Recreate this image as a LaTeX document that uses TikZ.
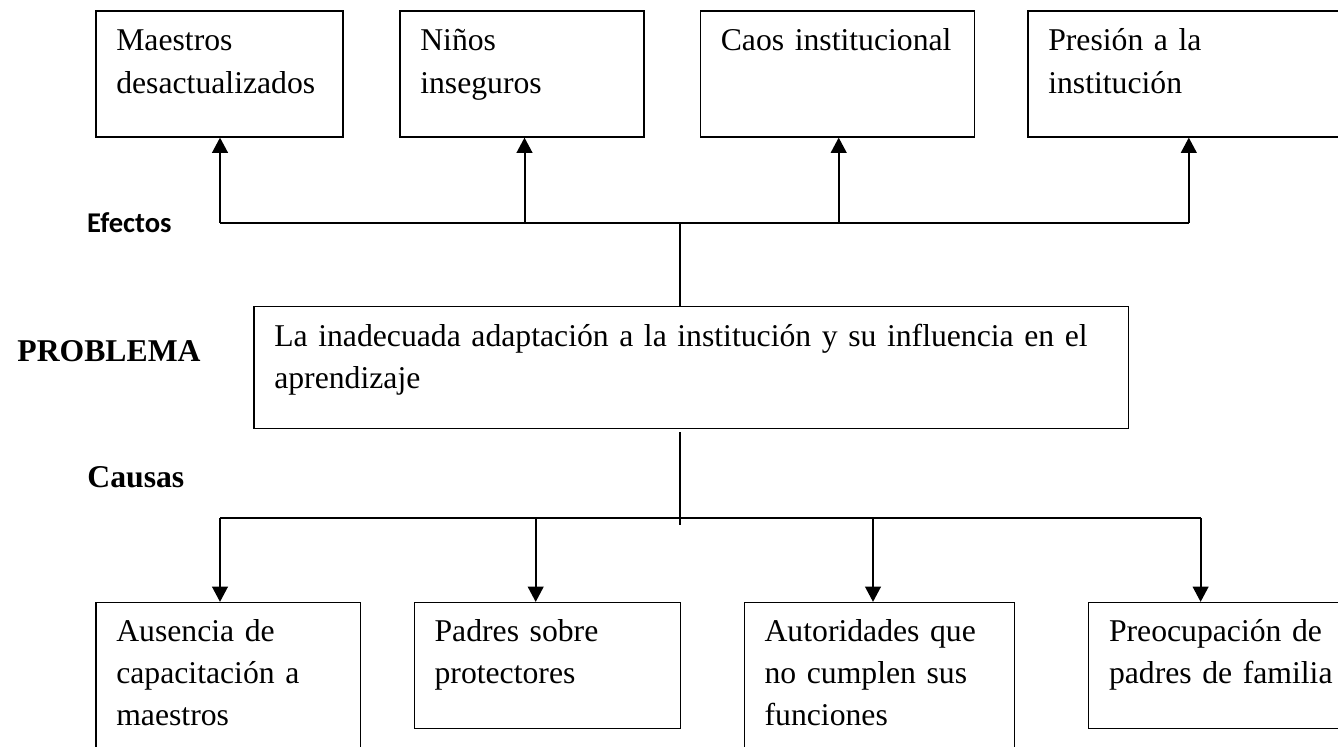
\documentclass[tikz,border=0pt]{standalone}
\usepackage{fontspec}
\setmainfont{Liberation Serif}
\newfontfamily\calib{Carlito}
\usetikzlibrary{arrows.meta}
\tikzset{
  box/.style={draw=black, line width=0.6pt, rectangle, inner sep=0pt},
  boxtext/.style={anchor=base west, inner sep=0pt, align=left, text width=#1,
    font=\fontsize{15.85}{21.1}\selectfont},
  conn/.style={draw=black, line width=1pt},
  thinconn/.style={draw=black, line width=0.7pt},
  arr/.style={conn, -{Triangle[width=7.8pt,length=7.6pt]}},
  lbl/.style={anchor=base west, inner sep=0pt}
}
\begin{document}
\begin{tikzpicture}[x=0.5pt,y=-0.5pt]
\useasboundingbox (0,0) rectangle (1338,747);
\begin{scope}
\clip (0,0) rectangle (1338,747);
% effect boxes
\node[box, minimum width=123.5pt, minimum height=63pt] (T1) at (219.5,74) {};
\node[box, minimum width=122pt, minimum height=63pt] (T2) at (522,74) {};
\node[box, minimum width=137.1pt, minimum height=63pt] (T3) at (837.6,74) {};
\node[box, minimum width=161pt, minimum height=63pt] (T4) at (1189,74) {};
\node[boxtext=110pt] (T1t) at ([shift={(20.5,40.5)}]T1.north west) {Maestros\\desactualizados};
\node[boxtext=110pt] (T2t) at ([shift={(20.5,40.5)}]T2.north west) {Niños\\inseguros};
\node[boxtext=125pt] (T3t) at ([shift={(20.5,40.5)}]T3.north west) {Caos institucional};
\node[boxtext=125pt] (T4t) at ([shift={(20.5,40.5)}]T4.north west) {Presión a la\\institución};
% problem box
\node[box, minimum width=437.15pt, minimum height=60.9pt] (P) at (691.15,367.6) {};
\node[boxtext=420pt] (Pt) at ([shift={(20.5,40)}]P.north west) {La inadecuada adaptación a la institución y su influencia en el\\aprendizaje};
% cause boxes
\node[box, minimum width=132.25pt, minimum height=78.75pt] (B1) at (228.25,681.25) {};
\node[box, minimum width=133.1pt, minimum height=63.1pt] (B2) at (547.4,665.6) {};
\node[box, minimum width=134.95pt, minimum height=78.75pt] (B3) at (879.25,681.25) {};
\node[box, minimum width=130.65pt, minimum height=63.1pt] (B4) at (1219.35,665.6) {};
\node[boxtext=125pt] (B1t) at ([shift={(20.5,39.5)}]B1.north west) {Ausencia de\\capacitación a\\maestros};
\node[boxtext=125pt] (B2t) at ([shift={(20.5,39.5)}]B2.north west) {Padres sobre\\protectores};
\node[boxtext=125pt] (B3t) at ([shift={(20.5,39.5)}]B3.north west) {Autoridades que\\no cumplen sus\\funciones};
\node[boxtext=125pt] (B4t) at ([shift={(20.5,39.5)}]B4.north west) {Preocupación de\\padres de familia};
% side labels
\node[lbl, font=\calib\bfseries\fontsize{14.3}{17}\selectfont] (efectos) at (86.7,232.7) {Efectos};
\node[lbl, font=\bfseries\fontsize{15.85}{19}\selectfont] (problema) at (17,361.7) {PROBLEMA};
\node[lbl, font=\bfseries\fontsize{15.85}{19}\selectfont] (causas) at (87,488) {Causas};
% effect connectors
\coordinate (e1) at (220,223);
\coordinate (e2) at (524.5,223);
\coordinate (e3) at (838.7,223);
\coordinate (e4) at (1188.8,223);
\coordinate (ec) at (680,223);
\draw[conn] (e1) -- (e4);
\draw[thinconn] (ec) -- (ec |- P.north);
\draw[arr] (e1) -- (e1 |- T1.south);
\draw[arr] (e2) -- (e2 |- T2.south);
\draw[arr] (e3) -- (e3 |- T3.south);
\draw[arr] (e4) -- (e4 |- T4.south);
% cause connectors
\coordinate (c1) at (220,518.3);
\coordinate (c2) at (535.7,518.3);
\coordinate (c3) at (873,518.3);
\coordinate (c4) at (1200.6,518.3);
\coordinate (cc) at (680,525);
\draw[conn] (c1) -- (c4);
\draw[thinconn] ([yshift=-1.5pt]cc |- P.south) -- (cc);
\draw[arr] (c1) -- (c1 |- B1.north);
\draw[arr] (c2) -- (c2 |- B2.north);
\draw[arr] (c3) -- (c3 |- B3.north);
\draw[arr] (c4) -- (c4 |- B4.north);
\end{scope}
\end{tikzpicture}
\end{document}
